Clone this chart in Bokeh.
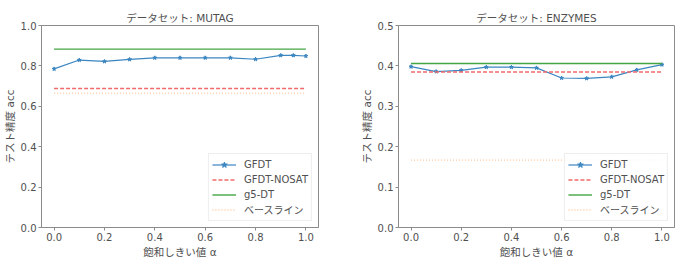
from bokeh.plotting import figure
from bokeh.layouts import row
from bokeh.models import FixedTicker, Legend, LegendItem, Range1d
from bokeh.embed import file_html
from bokeh.resources import INLINE

# Saturation threshold alpha
alpha_mutag = [0.0, 0.1, 0.2, 0.3, 0.4, 0.5, 0.6, 0.7, 0.8, 0.9, 0.95, 1.0]
alpha_enzymes = [0.0, 0.1, 0.2, 0.3, 0.4, 0.5, 0.6, 0.7, 0.8, 0.9, 1.0]

# Test accuracy of GFDT per threshold
gfdt_mutag = [0.785, 0.829, 0.822, 0.832, 0.840, 0.840, 0.840, 0.840, 0.833, 0.852, 0.852, 0.849]
gfdt_enzymes = [0.398, 0.386, 0.389, 0.397, 0.397, 0.395, 0.370, 0.369, 0.373, 0.390, 0.403]

# Reference accuracies (constant across alpha)
nosat_mutag, g5dt_mutag, base_mutag = 0.688, 0.883, 0.665
nosat_enzymes, g5dt_enzymes, base_enzymes = 0.385, 0.406, 0.1667

x_ticks = [0.0, 0.2, 0.4, 0.6, 0.8, 1.0]
x_tick_labels = {0.0: "0.0", 0.2: "0.2", 0.4: "0.4", 0.6: "0.6", 0.8: "0.8", 1.0: "1.0"}
legend_labels = ["GFDT", "GFDT-NOSAT", "g5-DT", "ベースライン"]

FONT = "DejaVu Sans, Noto Sans CJK JP"
TEXT = "#505050"
SPINE = "#8c8c8c"

C_GFDT = "#3b86c1"
C_NOSAT = "#f26a6a"
C_G5 = "#44a544"
C_BASE = "#ffc79a"


def panel(title, xs, ys, nosat, g5, base, ymax, yticks, width, left, right, title_shift):
    p = figure(width=width, height=260, output_backend="svg", toolbar_location=None,
               min_border_left=left, min_border_right=right,
               min_border_top=25, min_border_bottom=30,
               x_range=Range1d(-0.05, 1.05), y_range=Range1d(0, ymax))

    p.title.text = title
    p.title.align = "center"
    p.title.offset = title_shift
    p.title.text_font = FONT
    p.title.text_font_size = "10.5px"
    p.title.text_font_style = "normal"
    p.title.text_color = TEXT
    p.title.standoff = 4

    p.grid.visible = False
    p.outline_line_color = SPINE
    p.outline_line_width = 1

    for ax in (p.xaxis[0], p.yaxis[0]):
        ax.axis_line_color = SPINE
        ax.major_tick_line_color = SPINE
        ax.minor_tick_line_color = None
        ax.major_tick_in = 0
        ax.major_tick_out = 3
        ax.major_label_text_font = FONT
        ax.major_label_text_font_size = "10px"
        ax.major_label_text_color = TEXT
        ax.axis_label_text_font = FONT
        ax.axis_label_text_font_size = "10.5px"
        ax.axis_label_text_font_style = "normal"
        ax.axis_label_text_color = TEXT
        ax.major_label_standoff = 2
        ax.axis_label_standoff = 2

    p.xaxis.ticker = FixedTicker(ticks=x_ticks)
    p.xaxis.major_label_overrides = x_tick_labels
    p.xaxis.axis_label = "飽和しきい値 α"
    p.yaxis.ticker = FixedTicker(ticks=yticks)
    p.yaxis.major_label_overrides = {t: f"{t:.1f}" for t in yticks}
    p.yaxis.axis_label = "テスト精度 acc"

    x0, x1 = xs[0], xs[-1]
    r_gl = p.line(xs, ys, line_color=C_GFDT, line_width=1.2)
    r_gm = p.scatter(xs, ys, marker="star", size=4, fill_color=C_GFDT, line_color=C_GFDT)
    r_ns = p.line([x0, x1], [nosat, nosat], line_color=C_NOSAT, line_width=1.4, line_dash="4 2")
    r_g5 = p.line([x0, x1], [g5, g5], line_color=C_G5, line_width=1.4)
    r_bs = p.line([x0, x1], [base, base], line_color=C_BASE, line_width=1.3, line_dash="1 2")

    legend = Legend(items=[
        LegendItem(label=legend_labels[0], renderers=[r_gl, r_gm]),
        LegendItem(label=legend_labels[1], renderers=[r_ns]),
        LegendItem(label=legend_labels[2], renderers=[r_g5]),
        LegendItem(label=legend_labels[3], renderers=[r_bs]),
    ], location="bottom_right")
    legend.label_text_font = FONT
    legend.label_text_font_size = "10px"
    legend.label_text_color = TEXT
    legend.label_height = 15
    legend.glyph_height = 15
    legend.glyph_width = 24
    legend.spacing = 0
    legend.padding = 3
    legend.margin = 6
    legend.label_standoff = 8
    legend.border_line_color = "#dddddd"
    legend.background_fill_alpha = 0.85
    p.add_layout(legend)
    return p


left = panel("データセット: MUTAG", alpha_mutag, gfdt_mutag,
             nosat_mutag, g5dt_mutag, base_mutag,
             1.0, [0.0, 0.2, 0.4, 0.6, 0.8, 1.0], 341, 41, 23, -11)
right = panel("データセット: ENZYMES", alpha_enzymes, gfdt_enzymes,
              nosat_enzymes, g5dt_enzymes, base_enzymes,
              0.5, [0.0, 0.1, 0.2, 0.3, 0.4, 0.5], 342, 57, 9, -11)

layout = row(left, right, spacing=0)
open("out.html", "w").write(file_html(layout, INLINE))
